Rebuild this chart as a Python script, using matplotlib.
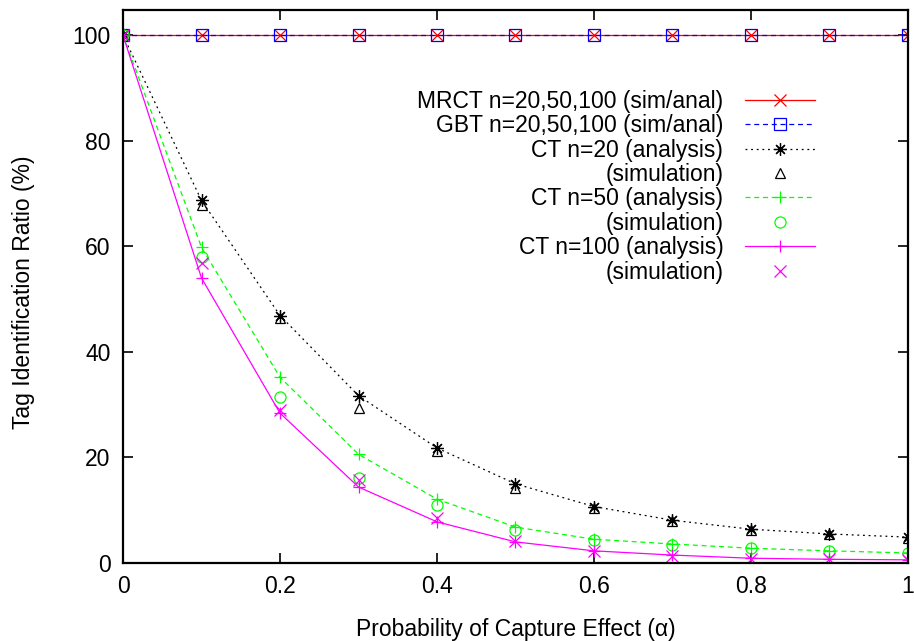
import matplotlib.pyplot as plt
import numpy as np

plt.rcParams['font.family'] = ['Liberation Sans', 'DejaVu Sans']

# %% Données

alpha = [0.0, 0.1, 0.2, 0.3, 0.4, 0.5, 0.6, 0.7, 0.8, 0.9, 1.0]

mrct = [100, 100, 100, 100, 100, 100, 100, 100, 100, 100, 100]
gbt = [100, 100, 100, 100, 100, 100, 100, 100, 100, 100, 100]

ct20_anal = [100, 68.7, 46.9, 31.7, 21.8, 15.0, 10.7, 8.1, 6.4, 5.5, 4.9]
ct20_sim = [100, 67.8, 46.4, 29.4, 21.3, 14.3, 10.4, 7.9, 6.2, 5.4, 4.8]

ct50_anal = [100, 59.8, 35.2, 20.6, 12.1, 6.8, 4.5, 3.6, 2.8, 2.3, 1.9]
ct50_sim = [100, 58.0, 31.4, 16.1, 11.0, 6.3, 4.4, 3.4, 2.8, 2.3, 1.9]

ct100_anal = [100, 54.0, 28.4, 14.4, 7.8, 4.0, 2.3, 1.5, 0.9, 0.7, 0.6]
ct100_sim = [100, 56.8, 29.0, 15.7, 8.5, 4.2, 2.3, 1.3, 0.8, 0.7, 0.5]

xticks = [0, 0.2, 0.4, 0.6, 0.8, 1]
xtick_labels = ['0', '0.2', '0.4', '0.6', '0.8', '1']
yticks = [0, 20, 40, 60, 80, 100]

# %% Figure

fig = plt.figure(figsize=(9.14, 6.41), dpi=100)
ax = fig.add_axes([0.1346, 0.1217, 0.8588, 0.8627])

fs = 16.5
lw = 0.9
ms = 9

ax.plot(alpha, mrct, color='#ff0000', ls='-', lw=lw, marker='x', ms=ms,
        mew=lw, label='MRCT n=20,50,100 (sim/anal)')
ax.plot(alpha, gbt, color='#0000ff', ls=(0, (4, 3)), lw=lw, marker='s', ms=8,
        mfc='none', mew=lw, label='GBT n=20,50,100 (sim/anal)')
ax.plot(alpha, ct20_anal, color='black', ls=(0, (1.5, 3)), lw=lw,
        marker=(8, 2, 0), ms=ms, mew=lw, label='CT n=20 (analysis)')
ax.plot(alpha, ct20_sim, color='black', ls='none', marker='^', ms=7,
        mfc='none', mew=lw, label='(simulation)')
ax.plot(alpha, ct50_anal, color='#00ff00', ls=(0, (4, 3)), lw=lw,
        marker='+', ms=ms, mew=lw, label='CT n=50 (analysis)')
ax.plot(alpha, ct50_sim, color='#00ff00', ls='none', marker='o', ms=8,
        mfc='none', mew=lw, label='(simulation)')
ax.plot(alpha, ct100_anal, color='#ff00ff', ls='-', lw=lw,
        marker='+', ms=ms, mew=lw, label='CT n=100 (analysis)')
ax.plot(alpha, ct100_sim, color='#ff00ff', ls='none', marker='x', ms=ms,
        mew=lw, label='(simulation)')

ax.set_xlim(0, 1)
ax.set_ylim(0, 104.8)
ax.set_xticks(xticks)
ax.set_xticklabels(xtick_labels)
ax.set_yticks(yticks)

ax.tick_params(direction='in', length=7, width=1.2, top=True, right=True,
               labelsize=fs, pad=9)
for s in ax.spines.values():
    s.set_linewidth(1.6)
    s.set_clip_on(False)

ax.set_xlabel('Probability of Capture Effect (\u03b1)', fontsize=fs, labelpad=14)
ax.set_ylabel('Tag Identification Ratio (%)', fontsize=fs)
ax.yaxis.set_label_coords(-0.112, 0.49)

leg = ax.legend(loc='upper right', bbox_to_anchor=(815 / 914, 1 - 90 / 641),
                bbox_transform=fig.transFigure, markerfirst=False, frameon=False,
                fontsize=fs, handlelength=3.05, handletextpad=0.95,
                labelspacing=0.06, borderaxespad=0, borderpad=0)

plt.savefig('out.png', dpi=100)
